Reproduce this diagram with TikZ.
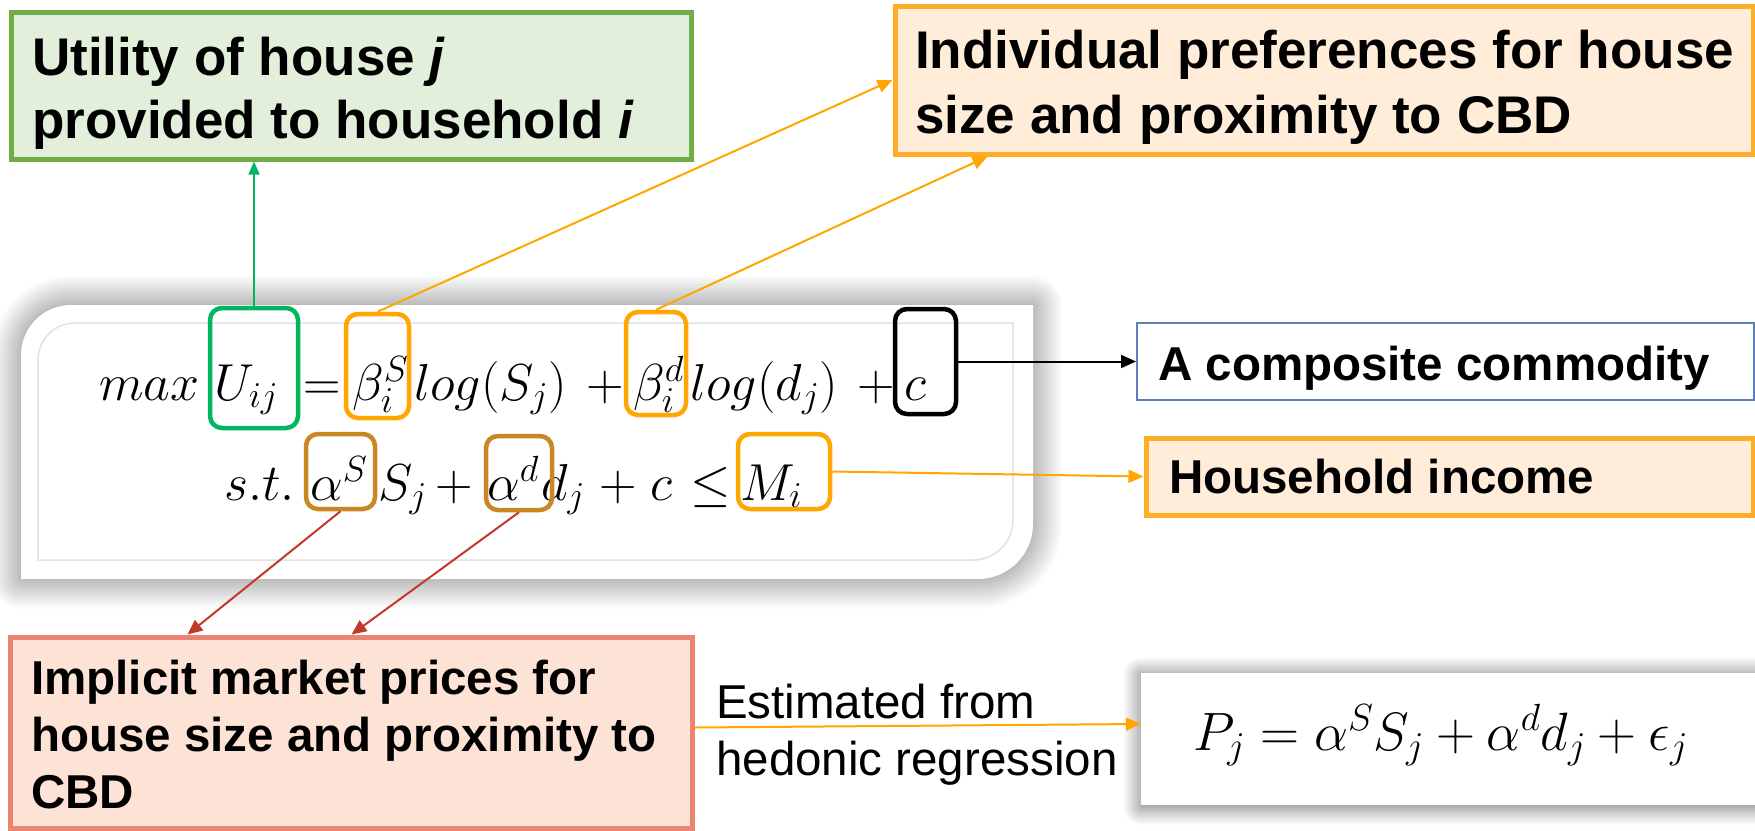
\documentclass[tikz,border=0pt]{standalone}
\usepackage{fix-cm}
\usepackage[no-math]{fontspec}
\setmainfont{Liberation Sans}
\usetikzlibrary{arrows.meta,shadows.blur,calc}
\definecolor{gfill}{RGB}{226,239,218}
\definecolor{gline}{RGB}{112,173,71}
\definecolor{ofill}{RGB}{255,237,218}
\definecolor{oline}{RGB}{255,172,40}
\definecolor{hor}{RGB}{255,166,0}
\definecolor{hgreen}{RGB}{0,182,95}
\definecolor{hbrown}{RGB}{200,135,35}
\definecolor{rarrow}{RGB}{192,57,43}
\definecolor{bline}{RGB}{95,125,185}
\definecolor{sfill}{RGB}{252,227,214}
\definecolor{sline}{RGB}{236,132,115}
\definecolor{panelline}{RGB}{226,226,226}
\begin{document}
\begin{tikzpicture}[x=1pt,y=-1pt,
  hl/.style={draw, rounded corners=12pt, line width=4.5pt, inner sep=0pt},
  bigbox/.style={rectangle, inner sep=0pt, line width=5pt},
  lbl/.style={anchor=base west, inner sep=0pt, font=\bfseries\fontsize{53}{63}\selectfont},
  lbls/.style={anchor=base west, inner sep=0pt, font=\bfseries\fontsize{47.5}{57}\selectfont},
  mth/.style={anchor=base west, inner sep=0pt, font=\fontsize{52}{60}\selectfont},
  arr/.style={-{Triangle[length=15pt,width=13pt]}, line width=2pt}]
\useasboundingbox (0,0) rectangle (1755,830);

% formula panel
\fill[white, blur shadow={shadow xshift=0pt, shadow yshift=0pt, shadow blur radius=30pt, shadow opacity=55, shadow blur steps=20}]
  (21,579) -- (21,355) .. controls (21,327.4) and (43.4,305) .. (71,305) -- (1033,305)
  -- (1033,524) .. controls (1033,554.4) and (1008.4,579) .. (978,579) -- cycle;
\draw[panelline, line width=1.5pt]
  (38,560) -- (38,360) .. controls (38,339.6) and (54.6,323) .. (75,323) -- (1013,323)
  -- (1013,520) .. controls (1013,542.1) and (995.1,560) .. (973,560) -- cycle;

% formula line 1
\node[mth] (m1) at (99,400) {$max$};
\node[mth] (m2) at (214,400) {$U_{ij}$};
\node[mth] (m3) at (303,400) {$=$};
\node[mth] (m4) at (352,400) {$\beta_i^S$};
\node[mth] (m5) at (414,400) {$log(S_j)$};
\node[mth] (m6) at (586,400) {$+$};
\node[mth] (m7) at (633,400) {$\beta_i^d$};
\node[mth] (m8) at (690,400) {$log(d_j)$};
\node[mth] (m9) at (857,400) {$+$};
\node[mth] (m10) at (904,400) {$c$};
% formula line 2
\node[mth] (n1) at (224,500) {$s.t.$};
\node[mth] (n2) at (310,500) {$\alpha^S$};
\node[mth] (n3) at (378,500) {$S_j$};
\node[mth] (n4) at (435,500) {$+$};
\node[mth] (n5) at (487,500) {$\alpha^d$};
\node[mth] (n6) at (541,500) {$d_j$};
\node[mth] (n7) at (599,500) {$+$};
\node[mth] (n8) at (650,500) {$c$};
\node[mth] (n9) at (690,500) {$\leq$};
\node[mth] (n10) at (740,500) {$M_i$};

% highlight boxes
\node[hl, draw=hgreen, minimum width=88pt, minimum height=120pt] (hU) at (254,368) {};
\node[hl, draw=hor, minimum width=63pt, minimum height=104pt] (hbS) at (377.5,366) {};
\node[hl, draw=hor, minimum width=60pt, minimum height=103pt] (hbd) at (656,363.5) {};
\node[hl, draw=black, minimum width=61pt, minimum height=105pt] (hc) at (925.5,361.5) {};
\node[hl, draw=hbrown, minimum width=69pt, minimum height=75pt] (haS) at (340.5,471.5) {};
\node[hl, draw=hbrown, minimum width=66pt, minimum height=74pt] (had) at (519,473) {};
\node[hl, draw=hor, minimum width=92pt, minimum height=75pt] (hM) at (784,471.5) {};

% label boxes
\node[bigbox, draw=gline, fill=gfill, minimum width=680pt, minimum height=147pt] (util) at (351,85.5) {};
\node[lbl] (utiltxt) at (32,75) {\begin{tabular}[t]{@{}l@{}}Utility of house \textit{j}\\provided to household \textit{i}\end{tabular}};

\node[bigbox, draw=oline, fill=ofill, minimum width=858pt, minimum height=148pt] (pref) at (1324,80) {};
\node[lbl, font=\bfseries\fontsize{53}{65}\selectfont] (preftxt) at (915,68) {\begin{tabular}[t]{@{}l@{}}Individual preferences for house\\size and proximity to CBD\end{tabular}};

\node[bigbox, draw=bline, fill=white, line width=2pt, minimum width=617pt, minimum height=77pt] (comp) at (1445.5,361.5) {};
\node[lbls] (comptxt) at (1158,380) {A composite commodity};

\node[bigbox, draw=oline, fill=ofill, minimum width=607pt, minimum height=77pt] (inc) at (1449.5,476.5) {};
\node[lbls] (inctxt) at (1169,493) {Household income};

\node[bigbox, draw=sline, fill=sfill, minimum width=682pt, minimum height=191pt] (prices) at (351,732.5) {};
\node[lbls] (pricestxt) at (31,694) {\begin{tabular}[t]{@{}l@{}}Implicit market prices for\\house size and proximity to\\CBD\end{tabular}};

\node[lbls, font=\fontsize{47.5}{57}\selectfont] (esttxt) at (716,718) {\begin{tabular}[t]{@{}l@{}}Estimated from\\hedonic regression\end{tabular}};

\node[rectangle, inner sep=0pt, fill=white, minimum width=640pt, minimum height=132pt,
  blur shadow={shadow xshift=0pt, shadow yshift=-2pt, shadow blur radius=18pt, shadow opacity=60, shadow blur steps=16}] (pbox) at (1461,739) {};
\node[mth, font=\fontsize{54}{60}\selectfont] (pform) at (1193,750) {$P_j = \alpha^S S_j + \alpha^d d_j + \epsilon_j$};

% connectors
\draw[arr, hgreen, line width=1.5pt, -{Triangle[length=13pt,width=11pt]}] (hU.north) -- (hU.north |- util.south);
\draw[arr, hor] (hbS.north) -- (pref.west);
\coordinate (prefin) at ($(pref.south west)+(95,0)$);
\draw[arr, hor] (hbd.north) -- (prefin);
\draw[arr, black] (hc.east) -- (comp.west);
\draw[arr, hor] (hM.east) -- (inc.west);
\coordinate (pricesin1) at ($(prices.north west)+(180,0)$);
\coordinate (pricesin2) at ($(prices.north west)+(344,0)$);
\draw[arr, rarrow] (haS.south) -- (pricesin1);
\draw[arr, rarrow] (had.south) -- (pricesin2);
\coordinate (estout) at ($(prices.east)+(0,-5)$);
\coordinate (estin) at ($(pbox.west)+(0,-15)$);
\draw[arr, hor] (estout) -- (estin);
\end{tikzpicture}
\end{document}
